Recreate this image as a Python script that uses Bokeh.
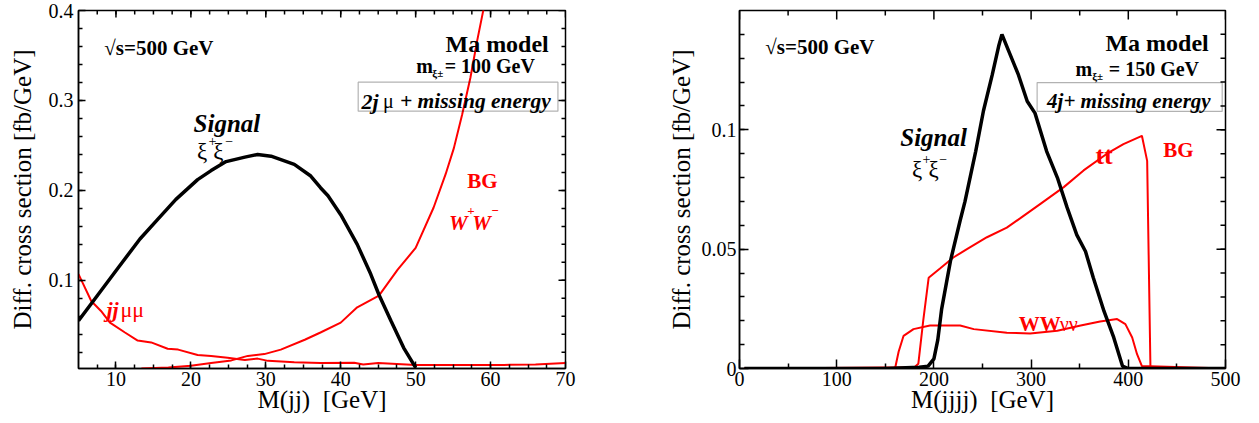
import numpy as np
from bokeh.plotting import figure
from bokeh.layouts import row
from bokeh.models import Range1d, FixedTicker, Label, BoxAnnotation
from bokeh.embed import file_html
from bokeh.resources import INLINE

FONT = "Liberation Serif"

# ---------------- data: left panel (M(jj)) ----------------
sig1_x = [5, 7.6, 10.3, 13.2, 15.6, 18.0, 20.9, 22.7, 24.7, 27.2, 28.9, 30.7, 33.8, 36.0, 37.3, 38.3, 40.0, 42.2, 44.0, 45.1, 46.7, 48.4, 50.0]
sig1_y = [0.055, 0.084, 0.114, 0.146, 0.168, 0.190, 0.212, 0.222, 0.232, 0.237, 0.240, 0.238, 0.229, 0.216, 0.203, 0.194, 0.173, 0.140, 0.107, 0.084, 0.055, 0.025, 0.003]

jjmm_x = [5, 6.7, 8.0, 9.2, 11.2, 12.9, 14.7, 16.9, 18.3, 20.9, 22.7, 24.9, 27.2, 28.9, 30.3, 33.8, 37.3, 41.8, 43.0, 45.0, 50.0, 55.0, 61.8, 66.0, 70.0]
jjmm_y = [0.107, 0.077, 0.066, 0.053, 0.042, 0.033, 0.031, 0.024, 0.023, 0.017, 0.016, 0.014, 0.0115, 0.013, 0.0105, 0.009, 0.008, 0.0085, 0.0065, 0.008, 0.0058, 0.0058, 0.006, 0.0065, 0.008]

ww_x = [13.4, 17.0, 20.0, 22.7, 25.4, 27.6, 29.8, 32.0, 35.2, 37.3, 40.0, 42.2, 45.1, 47.6, 50.0, 52.4, 54.0, 55.1, 56.2, 57.3, 58.2, 59.0, 60.0]
ww_y = [0.002, 0.003, 0.005, 0.008, 0.011, 0.016, 0.018, 0.023, 0.034, 0.042, 0.053, 0.070, 0.083, 0.112, 0.136, 0.181, 0.218, 0.247, 0.284, 0.325, 0.366, 0.399, 0.44]

# ---------------- data: right panel (M(jjjj)) ----------------
sig2_x = [5, 150, 185, 194, 200, 204, 208, 217, 227, 232, 243, 251, 260, 266.6, 270, 275, 287, 296, 304, 316, 327, 337, 347, 356, 364, 375, 385, 394, 400, 500]
sig2_y = [0, 0, 0.0005, 0.001, 0.004, 0.012, 0.025, 0.045, 0.062, 0.070, 0.091, 0.108, 0.123, 0.135, 0.140, 0.135, 0.123, 0.112, 0.107, 0.091, 0.080, 0.0675, 0.056, 0.049, 0.038, 0.024, 0.013, 0.001, 0, 0]

tt_x = [5, 180, 184, 189, 194.6, 206.6, 220, 234, 254.6, 275, 289, 309.6, 333.6, 354, 378, 395, 414, 419.4, 422.8, 500]
tt_y = [0, 0.0005, 0.002, 0.020, 0.038, 0.042, 0.0465, 0.050, 0.055, 0.059, 0.063, 0.069, 0.076, 0.083, 0.090, 0.094, 0.0975, 0.087, 0.0, 0]

wwvv_x = [5, 158, 160.3, 163.7, 168.8, 179, 196, 227, 241, 275, 299, 327, 351, 371, 388.5, 397, 404, 409, 414, 500]
wwvv_y = [0, 0, 0.0005, 0.007, 0.0137, 0.0165, 0.018, 0.018, 0.0165, 0.015, 0.0147, 0.0158, 0.018, 0.0197, 0.0207, 0.0186, 0.013, 0.006, 0.001, 0]

# tick labels
x1_ticks = [10, 20, 30, 40, 50, 60, 70]
y1_ticks = [0.1, 0.2, 0.3, 0.4]
x2_ticks = [0, 100, 200, 300, 400, 500]
y2_ticks = [0, 0.05, 0.1]


def make_fig(width, mleft, mright, xr, yr, xt, xminor, yt, yminor, xlabel,
             ylabel_standoff, ylab_standoff, maj, mnr):
    p = figure(width=width, height=423, x_range=Range1d(*xr), y_range=Range1d(*yr),
               output_backend="svg", toolbar_location=None,
               min_border_left=mleft, min_border_right=mright,
               min_border_top=10, min_border_bottom=55)
    p.grid.visible = False
    p.outline_line_color = "black"
    p.outline_line_width = 1.5
    p.outline_line_alpha = 1.0
    p.background_fill_color = "white"
    p.border_fill_color = "white"

    xtick = FixedTicker(ticks=xt, minor_ticks=xminor)
    ytick = FixedTicker(ticks=yt, minor_ticks=yminor)
    xa = p.below[0]
    ya = p.left[0]
    xa.ticker = xtick
    ya.ticker = ytick

    for ax in (xa, ya):
        ax.major_tick_in = maj
        ax.major_tick_out = 0
        ax.minor_tick_in = mnr
        ax.minor_tick_out = 0
        ax.major_tick_line_width = 1.5
        ax.minor_tick_line_width = 1.5
        ax.major_tick_line_color = "black"
        ax.minor_tick_line_color = "black"
        ax.axis_line_width = 1.5
        ax.axis_line_color = "black"
        ax.major_label_text_font = FONT
        ax.major_label_text_font_size = "20px"
        ax.major_label_text_font_style = "normal"
        ax.major_label_text_color = "black"
        ax.axis_label_text_font = FONT
        ax.axis_label_text_font_size = "25px"
        ax.axis_label_text_font_style = "normal"
        ax.axis_label_text_color = "black"

    xa.axis_label = xlabel
    xa.major_label_standoff = 3
    xa.axis_label_standoff = -3
    ya.axis_label = "Diff. cross section [fb/GeV]"
    ya.major_label_standoff = ylab_standoff
    ya.axis_label_standoff = ylabel_standoff

    # inward ticks on the top and right edges (half of each dash is clipped by the frame)
    x0, x1 = xr
    y0, y1 = yr
    p.scatter(xt, [y1] * len(xt), marker="dash", angle=np.pi / 2, size=2 * maj,
              line_color="black", line_width=1.5)
    p.scatter(xminor, [y1] * len(xminor), marker="dash", angle=np.pi / 2, size=2 * mnr,
              line_color="black", line_width=1.5)
    p.scatter([x1] * len(yt), yt, marker="dash", size=2 * maj,
              line_color="black", line_width=1.5)
    p.scatter([x1] * len(yminor), yminor, marker="dash", size=2 * mnr,
              line_color="black", line_width=1.5)
    return p


def lbl(p, x, y, text, size, style="normal", color="black", align="left", yo=0):
    p.add_layout(Label(x=x, y=y, text=text, text_font=FONT, text_font_size=f"{size}px",
                       text_font_style=style, text_color=color, text_align=align,
                       text_baseline="alphabetic", y_offset=yo))


# ---------------- left panel ----------------
p1 = make_fig(640, 78, 75, (5, 70), (0.002, 0.4),
              x1_ticks, list(np.arange(7.5, 70, 2.5)),
              y1_ticks, list(np.arange(0.02, 0.4, 0.02)),
              "M(jj) \u00a0[GeV]", 10, 5, 7, 4)

p1.line(jjmm_x, jjmm_y, line_color="red", line_width=2)
p1.line(ww_x, ww_y, line_color="red", line_width=2)
p1.line(sig1_x, sig1_y, line_color="black", line_width=3.5)

lbl(p1, 8.44, 0.3584, "√s=500 GeV", 21, "bold")
lbl(p1, 67.77, 0.3629, "Ma model", 24, "bold", align="right")
lbl(p1, 50.09, 0.3381, "m", 20, "bold")
lbl(p1, 52.23, 0.3381, "ξ±", 11, "bold", yo=-7)
lbl(p1, 53.87, 0.3381, "= 100 GeV", 20, "bold")
p1.add_layout(BoxAnnotation(left=42.33, right=68.99, bottom=0.2881, top=0.3203,
                            fill_alpha=0, line_color="black", line_width=1.2))
lbl(p1, 42.76, 0.2992, "2j", 22, "bold italic")
lbl(p1, 45.65, 0.2992, "μ", 20, "normal")
lbl(p1, 47.9, 0.2992, "+ missing energy", 21.5, "bold italic")
lbl(p1, 20.36, 0.274, "Signal", 25, "bold italic")
lbl(p1, 20.8, 0.2437, "ξ", 23)
lbl(p1, 22.35, 0.2437, "+", 14, yo=10)
lbl(p1, 23.0, 0.2437, "ξ", 23)
lbl(p1, 24.6, 0.2437, "−", 14, yo=10)
lbl(p1, 8.73, 0.0678, "jj", 22, "bold italic", "red")
lbl(p1, 10.6, 0.0678, "μμ", 22, "normal", "red")
lbl(p1, 56.89, 0.2103, "BG", 21, "bold", "red")
lbl(p1, 54.44, 0.164, "W", 21, "bold italic", "red")
lbl(p1, 56.89, 0.164, "+", 13, "bold", "red", yo=12)
lbl(p1, 57.56, 0.164, "W", 21, "bold italic", "red")
lbl(p1, 60.09, 0.164, "−", 13, "bold", "red", yo=12)

# ---------------- right panel ----------------
p2 = make_fig(619, 99, 34, (0, 500), (0, 0.15),
              x2_ticks, list(np.arange(50, 500, 100)),
              y2_ticks, list(np.arange(0.01, 0.15, 0.01)),
              "M(jjjj) \u00a0[GeV]", 4, 3, 9, 5)

p2.line(tt_x, tt_y, line_color="red", line_width=2)
p2.line(wwvv_x, wwvv_y, line_color="red", line_width=2)
p2.line(sig2_x, sig2_y, line_color="black", line_width=3.5)

lbl(p2, 26.5, 0.1346, "√s=500 GeV", 21, "bold")
lbl(p2, 482.8, 0.1363, "Ma model", 24, "bold", align="right")
lbl(p2, 345.6, 0.1253, "m", 20, "bold")
lbl(p2, 362.8, 0.1253, "ξ±", 11, "bold", yo=-7)
lbl(p2, 379.9, 0.1253, "= 150 GeV", 20, "bold")
p2.add_layout(BoxAnnotation(left=306.2, right=496.6, bottom=0.1077, top=0.1198,
                            fill_alpha=0, line_color="black", line_width=1.2))
lbl(p2, 316.4, 0.1122, "4j+ missing energy", 21, "bold italic")
lbl(p2, 165.4, 0.0966, "Signal", 25, "bold italic")
lbl(p2, 177.5, 0.0835, "ξ", 23)
lbl(p2, 188.2, 0.0835, "+", 14, yo=10)
lbl(p2, 194.5, 0.0835, "ξ", 23)
lbl(p2, 205.6, 0.0835, "−", 14, yo=10)
lbl(p2, 366.2, 0.0892, "tt", 26, "bold", "red")
lbl(p2, 435.9, 0.0916, "BG", 21, "bold", "red")
lbl(p2, 287.2, 0.0186, "WW", 21, "bold", "red")
lbl(p2, 329.4, 0.0186, "νν", 20, "normal", "red")

layout = row(p1, p2)
open("out.html", "w").write(file_html(layout, INLINE))
